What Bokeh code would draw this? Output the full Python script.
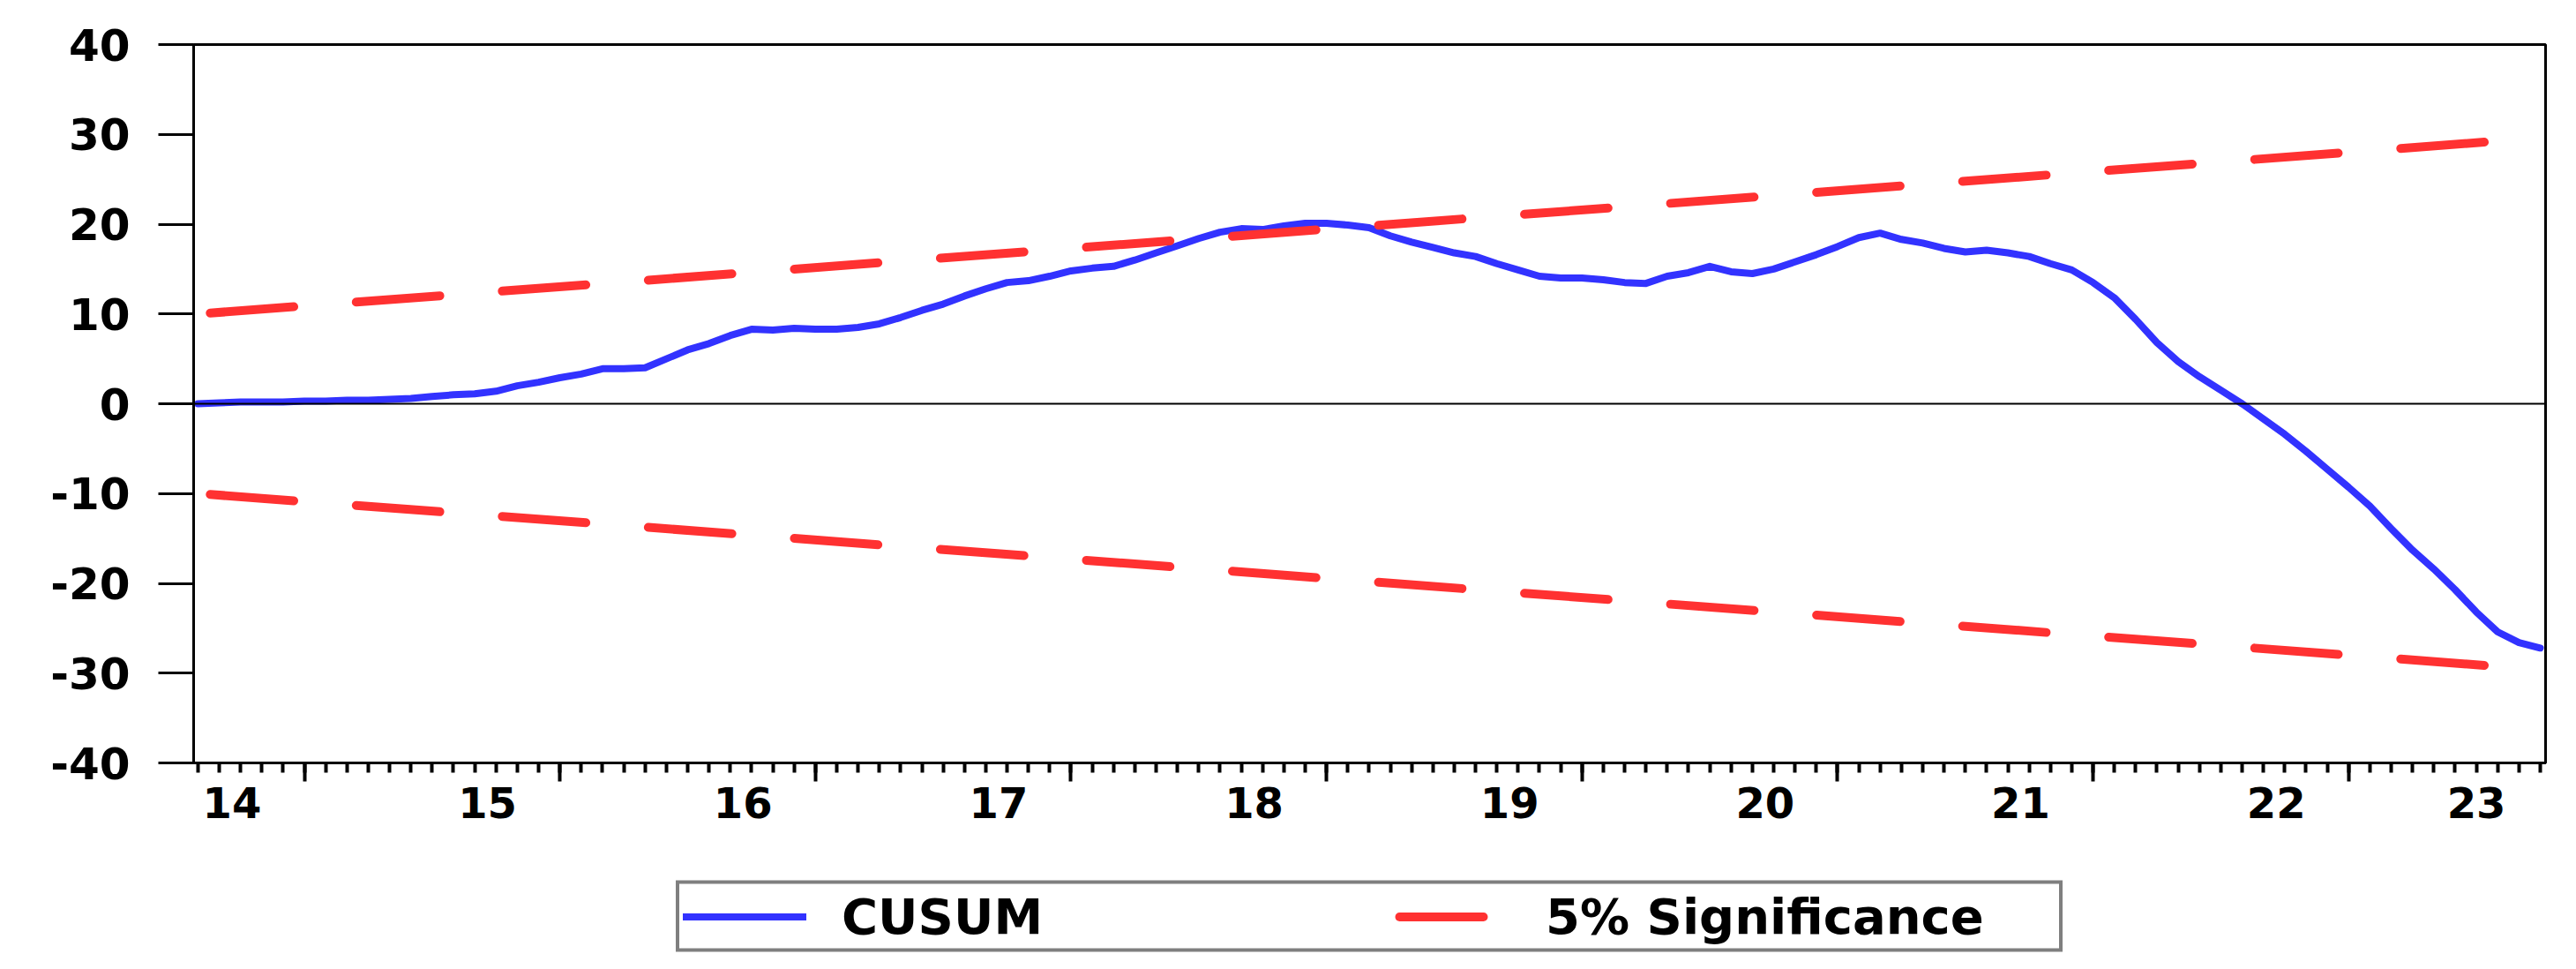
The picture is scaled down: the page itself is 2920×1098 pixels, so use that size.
from bokeh.plotting import figure
from bokeh.layouts import column
from bokeh.models import (Range1d, FixedTicker, LinearAxis, Legend, LegendItem, Span,
                          CustomJSTickFormatter)
from bokeh.embed import file_html
from bokeh.resources import INLINE

# ---- data (monthly observations, first obs = month index 0) ----
cusum = [0.0, 0.1, 0.2, 0.2, 0.2, 0.3, 0.3, 0.4, 0.4, 0.5,
         0.6, 0.8, 1.0, 1.1, 1.4, 2.0, 2.4, 2.9, 3.3, 3.9,
         3.9, 4.0, 5.0, 6.0, 6.7, 7.6, 8.3, 8.2, 8.4, 8.3,
         8.3, 8.5, 8.9, 9.6, 10.4, 11.1, 12.0, 12.8, 13.5, 13.7,
         14.2, 14.8, 15.1, 15.3, 16.0, 16.8, 17.6, 18.4, 19.1, 19.5,
         19.4, 19.8, 20.1, 20.1, 19.9, 19.6, 18.7, 18.0, 17.4, 16.8,
         16.4, 15.6, 14.9, 14.2, 14.0, 14.0, 13.8, 13.5, 13.4, 14.2,
         14.6, 15.3, 14.7, 14.5, 15.0, 15.8, 16.6, 17.5, 18.5, 19.0,
         18.3, 17.9, 17.3, 16.9, 17.1, 16.8, 16.4, 15.6, 14.9, 13.5,
         11.8, 9.4, 6.8, 4.7, 3.0, 1.5, 0.0, -1.7, -3.4, -5.3,
         -7.3, -9.3, -11.4, -13.9, -16.3, -18.4, -20.7, -23.2, -25.4, -26.6,
         -27.2]
obs = list(range(len(cusum)))

bound_obs = [0, len(cusum) - 1]
upper_5pct = [10.0, 29.6]
lower_5pct = [-10.0, -29.6]

year_labels = ["14", "15", "16", "17", "18", "19", "20", "21", "22", "23"]
y_ticks = [-40, -30, -20, -10, 0, 10, 20, 30, 40]
series_names = ["CUSUM", "5% Significance"]

BLUE = "#3232ff"
RED = "#ff3131"
FONT = "DejaVu Sans"
CUSUM_STYLE = dict(line_color=BLUE, line_width=8, line_join="round", line_cap="round")
BOUND_STYLE = dict(line_color=RED, line_width=10, line_dash="95 71",
                   line_dash_offset=152, line_cap="round")

p = figure(width=2904, height=980,
           x_range=Range1d(-0.2, 110.25), y_range=Range1d(-40, 40),
           output_backend="svg", toolbar_location=None,
           min_border_left=219, min_border_right=19,
           min_border_top=50, min_border_bottom=116)
p.grid.visible = False
p.outline_line_color = "black"
p.outline_line_width = 3
p.background_fill_color = "white"
p.border_fill_color = "white"

# zero line
p.add_layout(Span(location=0, dimension="width", line_color="black", line_width=2))

p.line(obs, cusum, **CUSUM_STYLE)
p.line(bound_obs, upper_5pct, **BOUND_STYLE)
p.line(bound_obs, lower_5pct, **BOUND_STYLE)

# y axis
ya = p.yaxis[0]
ya.ticker = FixedTicker(ticks=y_ticks)
ya.major_label_overrides = {v: str(v) for v in y_ticks}
ya.major_tick_out = 40
ya.major_tick_in = 0
ya.minor_tick_out = 0
ya.minor_tick_in = 0
ya.axis_line_width = 3
ya.major_tick_line_width = 3
ya.major_label_text_font = FONT
ya.major_label_text_font_style = "bold"
ya.major_label_text_font_size = "50px"
ya.major_label_text_color = "black"
ya.major_label_standoff = 32

# x axis: tick marks (monthly minor, long ticks every 12 months)
major_x = [m for m in obs if m % 12 == 5]
xa = p.xaxis[0]
xa.ticker = FixedTicker(ticks=major_x, minor_ticks=obs)
xa.major_tick_out = 21
xa.major_tick_in = 0
xa.minor_tick_out = 11
xa.minor_tick_in = 0
xa.axis_line_width = 3
xa.major_tick_line_width = 4
xa.minor_tick_line_width = 4
xa.formatter = CustomJSTickFormatter(code="return ''")
xa.major_label_standoff = 0

# x axis: year labels
label_pos = [round(min(12 * k + 1.6, 107.0), 2) for k in range(len(year_labels))]
xl = LinearAxis(ticker=FixedTicker(ticks=label_pos, minor_ticks=[]),
                major_label_overrides={pos: lab for pos, lab in zip(label_pos, year_labels)})
xl.axis_line_color = None
xl.major_tick_line_color = None
xl.minor_tick_line_color = None
xl.major_label_text_font = FONT
xl.major_label_text_font_style = "bold"
xl.major_label_text_font_size = "48px"
xl.major_label_text_color = "black"
xl.major_label_standoff = 0
p.add_layout(xl, "below")

# ---- legend strip below the chart ----
p2 = figure(width=2904, height=102, x_range=Range1d(0, 1), y_range=Range1d(0, 1),
            output_backend="svg", toolbar_location=None,
            x_axis_location=None, y_axis_location=None,
            min_border_left=219, min_border_right=19, min_border_top=14, min_border_bottom=0)
p2.grid.visible = False
p2.outline_line_color = None
p2.background_fill_color = "white"
p2.border_fill_color = "white"
# hidden renderers (same series) that only supply the legend samples
k_cusum = p2.line(obs, cusum, visible=False, **CUSUM_STYLE)
k_bound = p2.line(bound_obs, upper_5pct, visible=False, **BOUND_STYLE)

legend = Legend(items=[LegendItem(label=series_names[0], renderers=[k_cusum]),
                       LegendItem(label=series_names[1], renderers=[k_bound])],
                orientation="horizontal", location="center")
legend.label_text_font = FONT
legend.label_text_font_style = "bold"
legend.label_text_font_size = "56px"
legend.label_text_color = "black"
legend.glyph_width = 140
legend.label_standoff = 40
legend.label_width = 578
legend.spacing = 40
legend.padding = 4
legend.margin = 0
legend.border_line_color = "black"
legend.border_line_width = 4
legend.background_fill_color = "white"
legend.background_fill_alpha = 1.0
p2.add_layout(legend, "center")

layout = column(p, p2, spacing=0)
open("out.html", "w").write(file_html(layout, INLINE))
